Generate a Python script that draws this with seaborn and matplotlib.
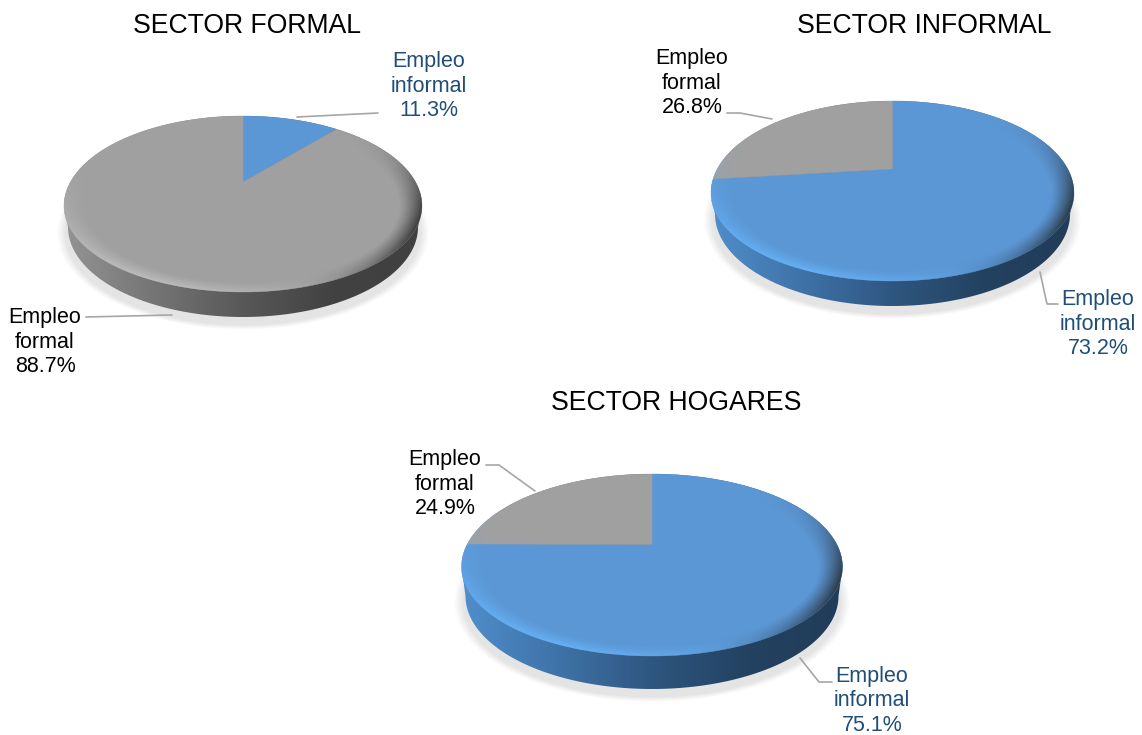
import numpy as np
import matplotlib
matplotlib.use("Agg")
import matplotlib.pyplot as plt
from matplotlib.colors import to_rgb
from matplotlib.patches import Polygon
import seaborn as sns

# valores (% del empleo en cada sector)
SECTORES = ["SECTOR FORMAL", "SECTOR INFORMAL", "SECTOR HOGARES"]
CATEGORIAS = ["Empleo\ninformal", "Empleo\nformal"]
INFORMAL = [11.3, 73.2, 75.1]
FORMAL = [88.7, 26.8, 24.9]

AZUL = "#5b97d5"
GRIS = "#a0a0a0"
TXT_AZUL = "#1f4e79"
LINEA = "#a6a6a6"

sns.set_theme(style="white")
plt.rcParams["font.family"] = ["Liberation Sans", "DejaVu Sans"]

# geometria en pixeles: centro, radios (rb = radio inferior de la cara), apice y grosor
GEOM = [
    dict(cx=243, cy=206, rx=179, ry=90, rb=86, apice=182, prof=21),
    dict(cx=892.5, cy=193, rx=181.5, ry=92, rb=88, apice=169, prof=21),
    dict(cx=652, cy=567, rx=190.5, ry=93, rb=89, apice=544.5, prof=29),
]
TITULOS = [(247, 25.5), (924, 25.5), (676, 402.5)]
ETIQ_INFORMAL = [(429, 86), (1098, 324), (872, 701)]
ETIQ_FORMAL = [(45, 342), (692, 83), (445, 484)]
GUIA_INFORMAL = [
    [(297, 117), (378, 113)],
    [(1040, 272), (1047, 304), (1058, 304)],
    [(800, 658), (819, 682), (832, 682)],
]
GUIA_FORMAL = [
    [(86, 317), (172, 315)],
    [(727, 113), (740, 113), (772, 119)],
    [(486, 465), (499, 465), (535, 491)],
]

fig = plt.figure(figsize=(11.42, 7.35), dpi=100, facecolor="white")
ax = fig.add_axes([0, 0, 1, 1])


def punto(t, g):
    # circulo unidad -> elipse con el apice desplazado (perspectiva)
    d = (g["cy"] - g["apice"]) / g["ry"]
    x, y = np.cos(t), np.sin(t)
    den = 1 + d * y
    yp = (y + d) / den
    return g["cx"] + g["rx"] * x * np.sqrt(1 - d ** 2) / den, g["cy"] - np.where(yp > 0, g["ry"], g["rb"]) * yp


def elipse(g, n=300):
    t = np.linspace(0, 2 * np.pi, n)
    s = np.sin(t)
    return np.c_[g["cx"] + g["rx"] * np.cos(t), g["cy"] + np.where(s > 0, g["rb"], g["ry"]) * s]


def rejilla(x0, x1, y0, y1):
    return np.meshgrid(np.arange(x0, x1) + 0.5, np.arange(y0, y1) + 0.5)


def sombra(g):
    x0, x1 = int(g["cx"] - g["rx"] - 30), int(g["cx"] + g["rx"] + 30)
    y0, y1 = int(g["cy"]), int(g["cy"] + g["ry"] + g["prof"] + 25)
    xx, yy = rejilla(x0, x1, y0, y1)
    r = np.hypot((xx - g["cx"]) / g["rx"], (yy - g["cy"] - g["prof"] - 6) / (g["ry"] + 3))
    rgba = np.zeros(xx.shape + (4,))
    rgba[..., :3] = 0.6
    rgba[..., 3] = 0.26 * np.clip((1.04 - r) / 0.05, 0, 1)
    ax.imshow(rgba, extent=(x0, x1, y1, y0), aspect="auto", zorder=1, interpolation="bilinear")


def lateral(g, colores):
    # borde inferior del pastel con degradado horizontal
    t = np.linspace(0, np.pi, 200)
    abajo = np.c_[g["cx"] + (g["rx"] - 4) * np.cos(t), g["cy"] + g["prof"] + g["ry"] * np.sin(t)]
    t2 = np.linspace(np.pi, 2 * np.pi, 200)
    arriba = np.c_[g["cx"] + g["rx"] * np.cos(t2), g["cy"] + g["ry"] * np.sin(t2)]
    contorno = np.vstack([abajo, arriba])
    cmap = sns.blend_palette(colores, n_colors=256, as_cmap=True)
    grad = np.linspace(0, 1, 256)[None, :]
    img = ax.imshow(grad, cmap=cmap, aspect="auto", zorder=2,
                    extent=(g["cx"] - g["rx"], g["cx"] + g["rx"], g["cy"] + g["ry"] + g["prof"] + 2, g["cy"] - g["ry"] - 2))
    img.set_clip_path(Polygon(contorno, closed=True, transform=ax.transData))


def bisel(g, claro):
    # reflejo abajo-izquierda y oscurecido a la derecha en el canto de la cara
    x0, x1 = int(g["cx"] - g["rx"] - 2), int(g["cx"] + g["rx"] + 2)
    y0, y1 = int(g["cy"] - g["ry"] - 2), int(g["cy"] + g["ry"] + 2)
    xx, yy = rejilla(x0, x1, y0, y1)
    dx, dy = (xx - g["cx"]) / g["rx"], (yy - g["cy"]) / np.where(yy > g["cy"], g["rb"], g["ry"])
    r, phi = np.hypot(dx, dy), np.arctan2(dy, dx)
    canto = np.clip((r - 0.87) / 0.13, 0, 1) ** 1.3
    luz = np.clip(np.cos(phi - np.radians(125)), 0, 1) ** 2
    oscuro = np.clip(np.cos(phi - np.radians(12)), 0, 1) ** 5
    peso = (oscuro / np.maximum(luz + oscuro, 1e-6))[..., None]
    rgba = np.zeros(xx.shape + (4,))
    rgba[..., :3] = np.array(to_rgb(claro)) * (1 - peso) + 0.13 * peso
    rgba[..., 3] = canto * np.clip(luz * 0.95 + oscuro * 0.8, 0, 1)
    img = ax.imshow(rgba, extent=(x0, x1, y1, y0), aspect="auto", zorder=4, interpolation="bilinear")
    img.set_clip_path(Polygon(elipse(g), closed=True, transform=ax.transData))


for i, g in enumerate(GEOM):
    mayor_azul = INFORMAL[i] > FORMAL[i]
    sombra(g)
    if mayor_azul:
        lateral(g, ["#4f8ecb", "#3f73a8", "#2f5680", "#234261", "#213c58"])
    else:
        lateral(g, ["#949494", "#757575", "#585858", "#424242", "#404040"])

    wedges, _ = ax.pie([INFORMAL[i], FORMAL[i]], colors=[AZUL, GRIS], startangle=90, counterclock=False)
    for w, color in zip(wedges, [AZUL, GRIS]):
        t = np.radians(np.linspace(w.theta1, w.theta2, 240))
        xs, ys = punto(t, g)
        ax.fill(np.r_[g["cx"], xs], np.r_[g["apice"], ys], color=color, lw=0.3, zorder=3)
        w.remove()
    bisel(g, "#66b2f7" if mayor_azul else "#bebebe")

    ax.text(*TITULOS[i], SECTORES[i], fontsize=19.2, color="black", ha="center", va="center")
    ax.text(*ETIQ_INFORMAL[i], f"{CATEGORIAS[0]}\n{INFORMAL[i]:.1f}%", fontsize=15.5, color=TXT_AZUL,
            ha="center", va="center", linespacing=1.22)
    ax.text(*ETIQ_FORMAL[i], f"{CATEGORIAS[1]}\n{FORMAL[i]:.1f}%", fontsize=15.5, color="black",
            ha="center", va="center", linespacing=1.22)
    for guia in (GUIA_INFORMAL[i], GUIA_FORMAL[i]):
        ax.plot(*zip(*guia), color=LINEA, lw=1.2, zorder=5)

ax.set_aspect("auto")
ax.set_xlim(0, 1142)
ax.set_ylim(735, 0)
ax.axis("off")
fig.savefig("out.png", dpi=100, facecolor="white")
